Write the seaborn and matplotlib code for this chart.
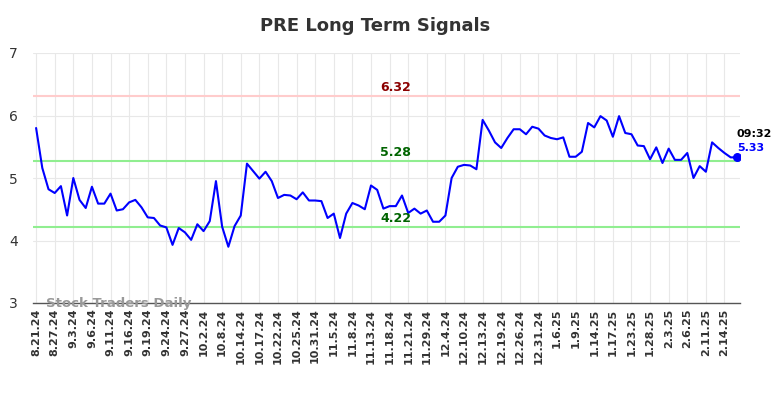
import seaborn as sns
import matplotlib.pyplot as plt
import pandas as pd

# closing prices, one per trading day
prices = [
    5.80, 5.16, 4.82, 4.76, 4.87, 4.40, 5.00, 4.65, 4.52, 4.86,
    4.59, 4.59, 4.75, 4.48, 4.50, 4.61, 4.65, 4.53, 4.37, 4.36,
    4.24, 4.21, 3.93, 4.20, 4.13, 4.01, 4.26, 4.15, 4.31, 4.95,
    4.22, 3.90, 4.23, 4.40, 5.23, 5.11, 4.99, 5.10, 4.95, 4.68,
    4.73, 4.72, 4.66, 4.77, 4.64, 4.64, 4.63, 4.36, 4.43, 4.04,
    4.43, 4.60, 4.56, 4.50, 4.88, 4.81, 4.51, 4.55, 4.55, 4.72,
    4.44, 4.51, 4.43, 4.48, 4.30, 4.30, 4.40, 5.00, 5.18, 5.21,
    5.20, 5.14, 5.93, 5.76, 5.57, 5.48, 5.64, 5.78, 5.78, 5.70,
    5.82, 5.79, 5.68, 5.64, 5.62, 5.65, 5.34, 5.34, 5.42, 5.88,
    5.81, 5.99, 5.92, 5.66, 5.99, 5.72, 5.70, 5.52, 5.51, 5.30,
    5.49, 5.24, 5.47, 5.29, 5.29, 5.40, 5.00, 5.19, 5.10, 5.57,
    5.48, 5.40, 5.33, 5.33,
]

tick_labels = [
    "8.21.24", "8.27.24", "9.3.24", "9.6.24", "9.11.24", "9.16.24", "9.19.24",
    "9.24.24", "9.27.24", "10.2.24", "10.8.24", "10.14.24", "10.17.24",
    "10.22.24", "10.25.24", "10.31.24", "11.5.24", "11.8.24", "11.13.24",
    "11.18.24", "11.21.24", "11.29.24", "12.4.24", "12.10.24", "12.13.24",
    "12.19.24", "12.26.24", "12.31.24", "1.6.25", "1.9.25", "1.14.25",
    "1.17.25", "1.23.25", "1.28.25", "2.3.25", "2.6.25", "2.11.25", "2.14.25",
]

upper_level = 6.32
mid_level = 5.28
lower_level = 4.22
last_time = "09:32"

df = pd.DataFrame({"day": range(len(prices)), "price": prices})

sns.set_style("whitegrid", {"grid.color": "#e8e8e8"})
plt.rcParams["font.family"] = ["DejaVu Sans"]

fig = plt.figure(figsize=(7.84, 3.98), dpi=100)
ax = fig.add_axes([33 / 784, 1 - 303 / 398, 707 / 784, 250 / 398])

ax.axhline(upper_level, color="#ffcccc", lw=1.5, zorder=1)
ax.axhline(mid_level, color="#90ee90", lw=1.5, zorder=1)
ax.axhline(lower_level, color="#90ee90", lw=1.5, zorder=1)

sns.lineplot(data=df, x="day", y="price", color="blue", lw=1.5, ax=ax, zorder=3)
last = df.iloc[-1]
ax.scatter([last["day"]], [last["price"]], color="blue", s=30, zorder=4)

mid_x = 58
ax.text(mid_x, upper_level + 0.03, f"{upper_level:.2f}", color="darkred",
        fontsize=9, fontweight="bold", ha="center", va="bottom")
ax.text(mid_x, mid_level + 0.03, f"{mid_level:.2f}", color="darkgreen",
        fontsize=9, fontweight="bold", ha="center", va="bottom")
ax.text(mid_x, lower_level + 0.03, f"{lower_level:.2f}", color="darkgreen",
        fontsize=9, fontweight="bold", ha="center", va="bottom")

ax.annotate(last_time, (last["day"], last["price"]), xytext=(0, 17),
            textcoords="offset points", fontsize=8, fontweight="bold",
            color="black", ha="left", va="center", annotation_clip=False)
ax.annotate(f"{last['price']:.2f}", (last["day"], last["price"]), xytext=(0, 7),
            textcoords="offset points", fontsize=8, fontweight="bold",
            color="blue", ha="left", va="center", annotation_clip=False)

ax.text(0.018, 0.0, "Stock Traders Daily", transform=ax.transAxes, fontsize=9.5,
        fontweight="bold", color="#999999", ha="left", va="center", zorder=5)

ax.set_xlim(-0.5, len(prices) - 0.5)
ax.set_ylim(3, 7)
ax.set_yticks([3, 4, 5, 6, 7])
ax.set_xticks(range(0, len(prices), 3))
ax.set_xticklabels(tick_labels, rotation=90, fontsize=8, fontweight="bold",
                   color="#333333")
ax.tick_params(axis="y", labelsize=10, colors="#333333", length=0, pad=11)
ax.tick_params(axis="x", length=0, pad=4)
ax.set_xlabel("")
ax.set_ylabel("")
for side in ["top", "right", "left"]:
    ax.spines[side].set_visible(False)
ax.spines["bottom"].set_color("#555555")
ax.spines["bottom"].set_linewidth(1)

fig.text(375 / 784, 1 - 26 / 398, "PRE Long Term Signals", fontsize=13,
         fontweight="bold", color="#333333", ha="center", va="center")

fig.savefig("out.png", dpi=100)
